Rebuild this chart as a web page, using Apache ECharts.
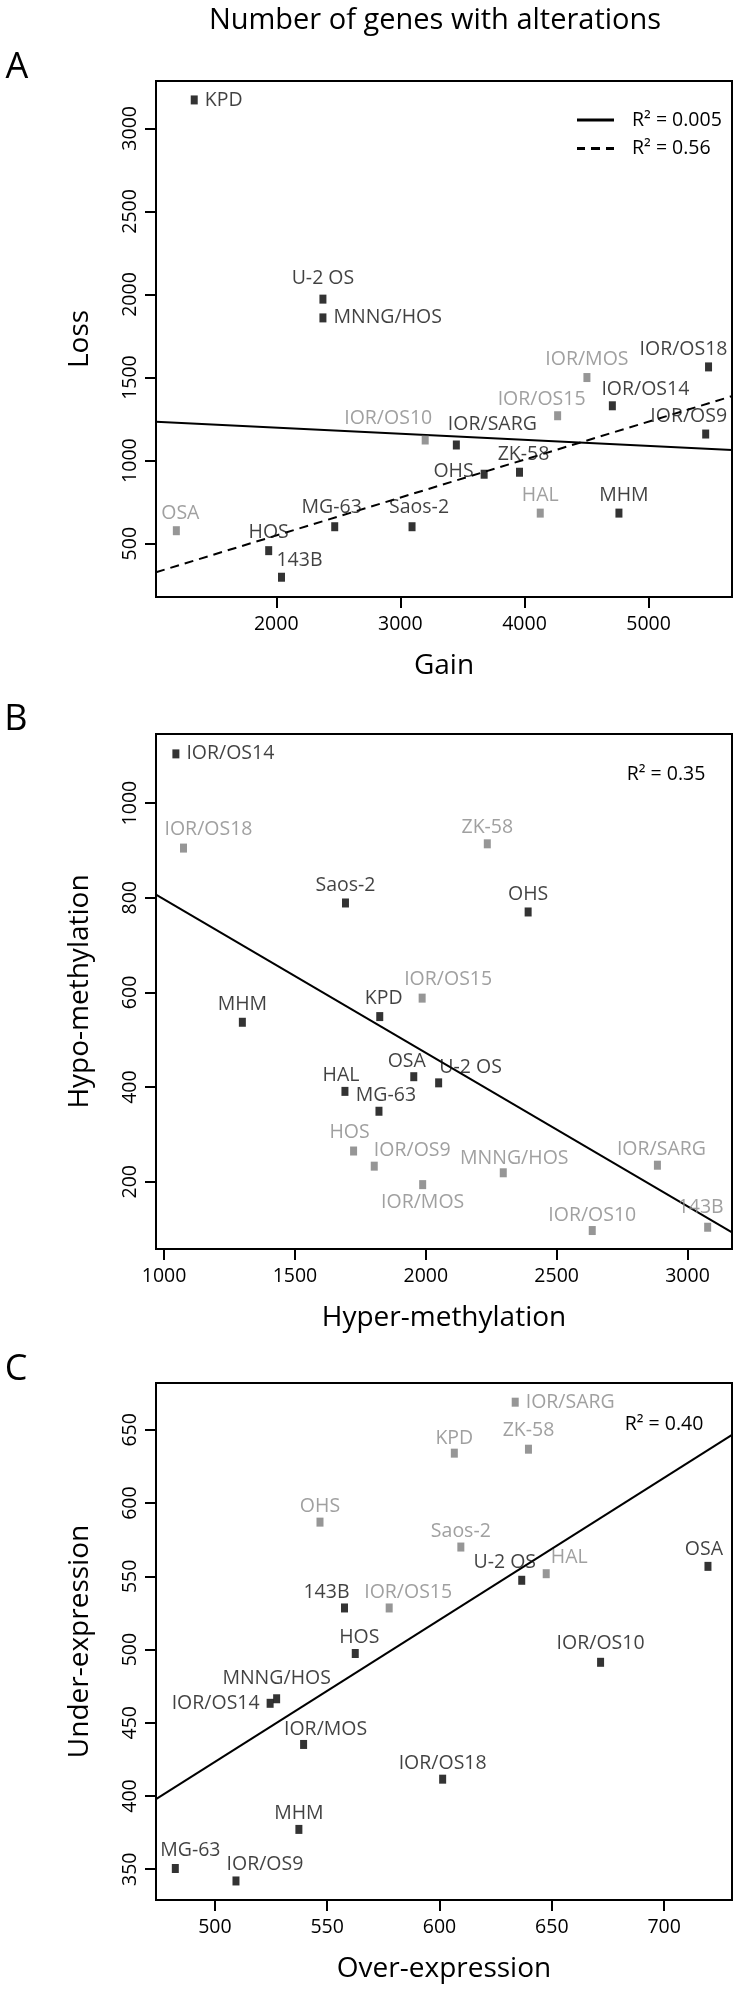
<!DOCTYPE html>
<html><head><meta charset="utf-8">
<script src="https://cdn.jsdelivr.net/npm/echarts@6/dist/echarts.min.js"></script>
<style>html,body{margin:0;padding:0;background:#fff}#c{width:740px;height:1991px}</style>
</head><body><div id="c"></div>
<script>
// ---------- Panel A: Gain vs Loss ----------
const aNames = ['KPD','U-2 OS','MNNG/HOS','IOR/MOS','IOR/OS18','IOR/OS14','IOR/OS15','IOR/OS9','IOR/OS10','IOR/SARG','ZK-58','OHS','HAL','MHM','OSA','MG-63','Saos-2','HOS','143B'];
const aGain  = [1339,2376,2376,4503,5483,4708,4267,5460,3200,3451,3960,3675,4127,4761,1195,2471,3094,1939,2042];
const aLoss  = [3171,1972,1859,1500,1564,1330,1270,1160,1124,1094,930,918,684,684,578,602,602,458,298];
const aGroup = ['k','k','k','g','k','k','g','k','g','k','k','k','g','k','g','k','k','k','k'];
const aTicksX = [2000,3000,4000,5000];
const aTicksY = [500,1000,1500,2000,2500,3000];
const aRangeX = [1031,5672];
const aRangeY = [179,3285];
const aFitAll = {intercept:1272, slope:-0.03663, r2:'0.005'};
const aFitSub = {intercept:92.5, slope:0.2284, r2:'0.56'};

// ---------- Panel B: Hyper- vs Hypo-methylation ----------
const bNames = ['IOR/OS14','IOR/OS18','ZK-58','Saos-2','OHS','IOR/OS15','KPD','MHM','OSA','U-2 OS','HAL','MG-63','HOS','IOR/OS9','IOR/MOS','MNNG/HOS','IOR/SARG','IOR/OS10','143B'];
const bHyper = [1045,1074,2235,1693,2391,1986,1824,1299,1954,2049,1691,1821,1724,1803,1988,2296,2885,2636,3077];
const bHypo  = [1104,905,914,789,770,588,549,537,422,409,391,349,265,233,194,219,235,97,104];
const bGroup = ['k','g','g','k','k','g','k','k','k','k','k','k','g','g','g','g','g','g','g'];
const bTicksX = [1000,1500,2000,2500,3000];
const bTicksY = [200,400,600,800,1000];
const bRangeX = [969,3170];
const bRangeY = [58,1146];
const bFit = {intercept:1120.7, slope:-0.3241, r2:'0.35'};

// ---------- Panel C: Over- vs Under-expression ----------
const cNames = ['IOR/SARG','KPD','ZK-58','OHS','Saos-2','U-2 OS','HAL','OSA','143B','IOR/OS15','HOS','IOR/OS10','MNNG/HOS','IOR/OS14','IOR/MOS','IOR/OS18','MHM','MG-63','IOR/OS9'];
const cOver  = [633.7,606.6,639.6,546.8,609.5,636.6,647.5,719.5,557.7,577.6,562.5,671.7,527.5,524.6,539.5,601.4,537.4,482.4,509.4];
const cUnder = [668.9,634.1,636.8,587.0,570.0,547.3,551.8,556.8,528.4,528.4,497.3,491.3,466.4,463.3,435.2,411.5,377.2,350.5,342.0];
const cGroup = ['g','g','g','g','g','k','g','k','k','g','k','k','k','k','k','k','k','k','k'];
const cTicksX = [500,550,600,650,700];
const cTicksY = [350,400,450,500,550,600,650];
const cRangeX = [473.8,730.2];
const cRangeY = [329,682];
const cFit = {intercept:-61.96, slope:0.9704, r2:'0.40'};

// ---------- label placement (layout only) ----------
const placeA = {'KPD':['right'],'U-2 OS':['top',0,4],'MNNG/HOS':['right'],'IOR/MOS':['top',0,2],'IOR/OS18':['top',-25,1],
 'IOR/OS14':['top',33,0],'IOR/OS15':['top',-16,0],'IOR/OS9':['top',-17,1],'IOR/OS10':['top',-37,5],'IOR/SARG':['top',36,4],
 'ZK-58':['top',4,1],'OHS':['left',0,3],'HAL':['top',0,1],'MHM':['top',5,1],'OSA':['top',4,1],'MG-63':['top',-3,3],
 'Saos-2':['top',7,3],'HOS':['top',0,2],'143B':['top',18,0]};
const placeB = {'IOR/OS14':['right'],'IOR/OS18':['top',25,2],'ZK-58':['top',0,0],'Saos-2':['top',0,1],'OHS':['top',0,1],
 'IOR/OS15':['top',26,2],'KPD':['top',4,2],'MHM':['top',0,1],'OSA':['top',-7,-1],'U-2 OS':['top',32,-1],'HAL':['top',-4,-1],
 'MG-63':['top',7,-1],'HOS':['top',-4,2],'IOR/OS9':['top',38,-1],'IOR/MOS':['bottom',0,0],'MNNG/HOS':['top',11,-2],
 'IOR/SARG':['top',4,-1],'IOR/OS10':['top',0,-1],'143B':['top',-7,3]};
const placeC = {'IOR/SARG':['right'],'KPD':['top',0,-2],'ZK-58':['top',0,2],'OHS':['top',0,-1],'Saos-2':['top',0,-1],
 'U-2 OS':['top',-17,1],'HAL':['top',23,0],'OSA':['top',-4,0],'143B':['top',-18,-1],'IOR/OS15':['top',19,-1],'HOS':['top',4,0],
 'IOR/OS10':['top',0,2],'MNNG/HOS':['top',0,4],'IOR/OS14':['left'],'IOR/MOS':['top',22,-1],'IOR/OS18':['top',0,-1],
 'MHM':['top',0,-1],'MG-63':['top',15,2],'IOR/OS9':['top',29,0]};

const FONT = '"Open Sans", "DejaVu Sans", sans-serif';
const BLACK = '#000000', GRAY = '#7c7c7c', GRAYTXT = '#888888';
const LBL = 19.5;

function buildPoints(names, xs, ys, groups, place, grp) {
  const out = [];
  for (let i = 0; i < names.length; i++) {
    if (groups[i] !== grp) continue;
    const p = place[names[i]] || ['top', 0, 0];
    const lab = {show: true, formatter: names[i], position: p[0]};
    if (p[0] === 'top') { lab.distance = 2 + (p[2] || 0); lab.offset = [p[1] || 0, 0]; }
    else if (p[0] === 'bottom') { lab.distance = 3; }
    else if (p[0] === 'left') { lab.distance = 7; lab.offset = [0, -(p[2] || 0)]; }
    else { lab.distance = 7; }
    out.push({name: names[i], value: [xs[i], ys[i]], label: lab});
  }
  return out;
}
function scatter(idx, names, xs, ys, groups, place, grp) {
  const col = grp === 'k' ? BLACK : GRAY;
  return {
    type: 'scatter', xAxisIndex: idx, yAxisIndex: idx, symbol: 'rect', symbolSize: [7, 9],
    itemStyle: {color: col}, z: 3,
    label: {color: grp === 'k' ? '#111' : GRAYTXT, fontSize: LBL, fontFamily: FONT},
    emphasis: {disabled: true},
    data: buildPoints(names, xs, ys, groups, place, grp)
  };
}
function fitLine(idx, fit, range, name, dashed) {
  const x0 = range[0], x1 = range[1];
  return {
    type: 'line', name: name, xAxisIndex: idx, yAxisIndex: idx, symbol: 'none', silent: true, z: 2,
    clip: true, itemStyle: {color: '#000'},
    lineStyle: {color: '#000', width: 2, type: dashed ? [9, 6] : 'solid'},
    data: [[x0, fit.intercept + fit.slope * x0], [x1, fit.intercept + fit.slope * x1]]
  };
}
const grids = [
  {left: 156, width: 576, top: 81, height: 516},
  {left: 156, width: 576, top: 734, height: 515},
  {left: 156, width: 576, top: 1383, height: 517}
].map(g => Object.assign(g, {show: true, borderColor: '#000', borderWidth: 2, backgroundColor: 'transparent'}));

const plain = v => String(v);
function xAxis(idx, range, ticks, name) {
  return {type: 'value', gridIndex: idx, min: range[0], max: range[1], name: name,
    nameLocation: 'middle', nameGap: 55, nameTextStyle: {fontSize: 28, fontFamily: FONT, color: '#000'},
    splitLine: {show: false}, axisLine: {show: true, onZero: false, lineStyle: {color: '#000', width: 2}},
    axisTick: {show: true, inside: false, length: 11, customValues: ticks, lineStyle: {color: '#000', width: 2}},
    axisLabel: {customValues: ticks, formatter: plain, margin: 17, fontSize: LBL, fontFamily: FONT, color: '#000'}};
}
function yAxis(idx, range, ticks, name) {
  return {type: 'value', gridIndex: idx, min: range[0], max: range[1], name: name,
    nameLocation: 'middle', nameGap: 62, nameRotate: 90, nameTextStyle: {fontSize: 28, fontFamily: FONT, color: '#000'},
    splitLine: {show: false}, axisLine: {show: true, onZero: false, lineStyle: {color: '#000', width: 2}},
    axisTick: {show: true, inside: false, length: 11, customValues: ticks, lineStyle: {color: '#000', width: 2}},
    axisLabel: {customValues: ticks, formatter: plain, rotate: 90, margin: 16, fontSize: LBL, fontFamily: FONT, color: '#000'}};
}

const nameAll = 'R² = ' + aFitAll.r2, nameSub = 'R² = ' + aFitSub.r2;
const option = {
  animation: false,
  backgroundColor: '#fff',
  grid: grids,
  xAxis: [xAxis(0, aRangeX, aTicksX, 'Gain'), xAxis(1, bRangeX, bTicksX, 'Hyper-methylation'), xAxis(2, cRangeX, cTicksX, 'Over-expression')],
  yAxis: [yAxis(0, aRangeY, aTicksY, 'Loss'), yAxis(1, bRangeY, bTicksY, 'Hypo-methylation'), yAxis(2, cRangeY, cTicksY, 'Under-expression')],
  legend: {orient: 'vertical', left: 572, top: 105, itemWidth: 37, itemHeight: 3, itemGap: 8.5,
    symbolKeepAspect: false, selectedMode: false,
    itemStyle: {color: '#000', borderWidth: 0},
    data: [
      {name: nameAll, icon: 'path://M0,0h37v3h-37z'},
      {name: nameSub, icon: 'path://M0,0h8v3h-8z M14,0h9v3h-9z M29,0h8v3h-8z'}
    ],
    textStyle: {fontSize: LBL, fontFamily: FONT, color: '#000', padding: [0, 0, 0, 13]}},
  graphic: [
    {type: 'text', x: 435, y: 21, style: {text: 'Number of genes with alterations', font: '29px ' + FONT, fill: '#000', textAlign: 'center', textVerticalAlign: 'middle'}},
    {type: 'text', x: 17, y: 68, style: {text: 'A', font: '36px ' + FONT, fill: '#000', textAlign: 'center', textVerticalAlign: 'middle'}},
    {type: 'text', x: 16, y: 720, style: {text: 'B', font: '36px ' + FONT, fill: '#000', textAlign: 'center', textVerticalAlign: 'middle'}},
    {type: 'text', x: 16, y: 1370, style: {text: 'C', font: '36px ' + FONT, fill: '#000', textAlign: 'center', textVerticalAlign: 'middle'}},
    {type: 'text', x: 666, y: 774, style: {text: 'R² = ' + bFit.r2, font: LBL + 'px ' + FONT, fill: '#000', textAlign: 'center', textVerticalAlign: 'middle'}},
    {type: 'text', x: 664, y: 1424, style: {text: 'R² = ' + cFit.r2, font: LBL + 'px ' + FONT, fill: '#000', textAlign: 'center', textVerticalAlign: 'middle'}}
  ],
  series: [
    fitLine(0, aFitAll, aRangeX, nameAll, false),
    fitLine(0, aFitSub, aRangeX, nameSub, true),
    scatter(0, aNames, aGain, aLoss, aGroup, placeA, 'k'),
    scatter(0, aNames, aGain, aLoss, aGroup, placeA, 'g'),
    fitLine(1, bFit, bRangeX, 'fitB', false),
    scatter(1, bNames, bHyper, bHypo, bGroup, placeB, 'k'),
    scatter(1, bNames, bHyper, bHypo, bGroup, placeB, 'g'),
    fitLine(2, cFit, cRangeX, 'fitC', false),
    scatter(2, cNames, cOver, cUnder, cGroup, placeC, 'k'),
    scatter(2, cNames, cOver, cUnder, cGroup, placeC, 'g')
  ]
};
const chart = echarts.init(document.getElementById('c'), null, {renderer: 'canvas', width: 740, height: 1991});
chart.setOption(option);
</script></body></html>
